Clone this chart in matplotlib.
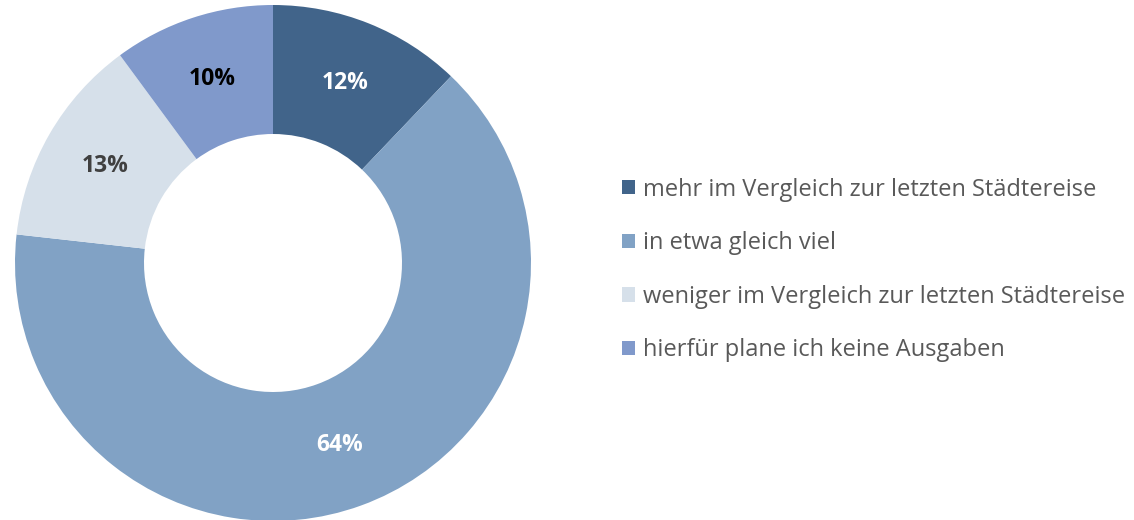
import matplotlib.pyplot as plt
import numpy as np

labels = [
    "mehr im Vergleich zur letzten Städtereise",
    "in etwa gleich viel",
    "weniger im Vergleich zur letzten Städtereise",
    "hierfür plane ich keine Ausgaben",
]
values = [12, 64, 13, 10]
colors = ["#41648A", "#81A2C5", "#D6E0EA", "#8099CB"]
pct_colors = ["white", "white", "#404040", "black"]

plt.rcParams['font.family'] = ['Open Sans', 'DejaVu Sans']

fig = plt.figure(figsize=(11.34, 5.2), dpi=100)
# pie centre at (273, 263) px, radius 258 px
ax = fig.add_axes([15 / 1134, -1 / 520, 516 / 1134, 516 / 520])

wedges, texts = ax.pie(values, colors=colors, startangle=90, counterclock=False,
                       radius=1, wedgeprops=dict(width=0.5, edgecolor='none'))
ax.set_xlim(-1, 1)
ax.set_ylim(-1, 1)
ax.set_aspect('equal')

total = sum(values)
start = 90.0
for v, c in zip(values, pct_colors):
    span = v / total * 360
    mid = np.deg2rad(start - span / 2)
    ax.text(0.75 * np.cos(mid), 0.75 * np.sin(mid), f"{v}%", ha='center', va='center',
            fontsize=16.5, fontweight='bold', color=c)
    start -= span

leg = fig.legend(wedges, labels, loc='center left', bbox_to_anchor=(613 / 1134, 1 - 270 / 520),
                 frameon=False, fontsize=17, handlelength=0.55, handleheight=0.55,
                 handletextpad=0.3, labelspacing=1.25, borderaxespad=0)
for t in leg.get_texts():
    t.set_color('#595959')

fig.savefig('out.png', dpi=100)
